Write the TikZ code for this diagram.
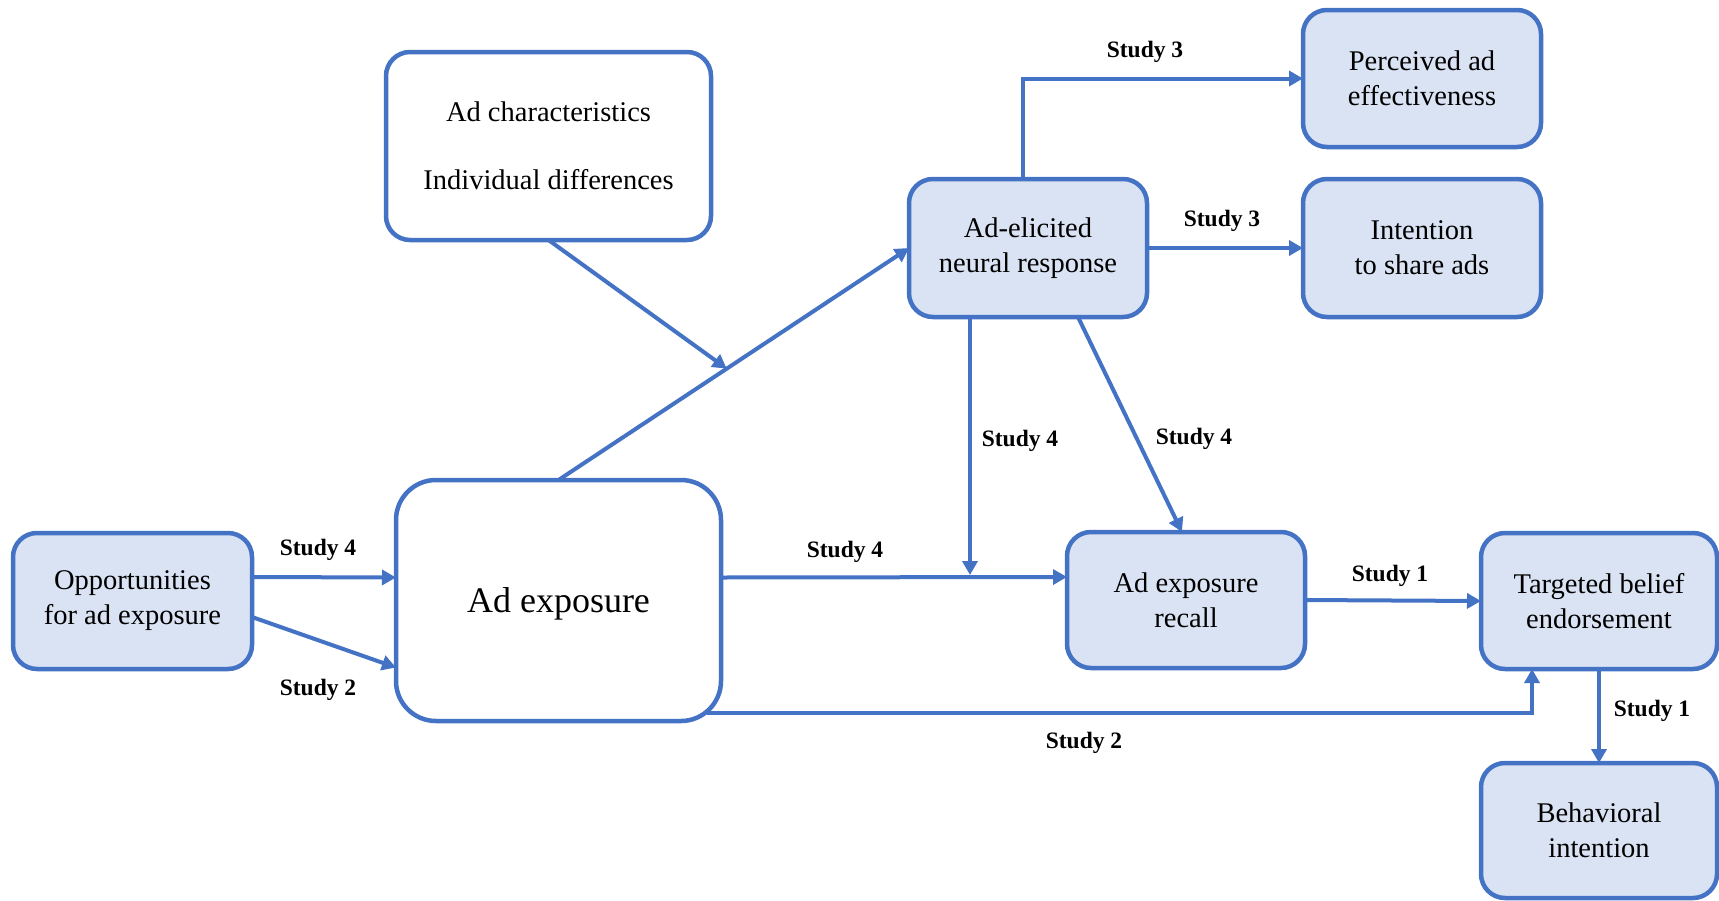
\documentclass[tikz,border=0pt]{standalone}
\usepackage{fontspec}
\setmainfont{Liberation Serif}
\usetikzlibrary{arrows.meta,calc}
\definecolor{bblue}{HTML}{4472C4}
\definecolor{lfill}{HTML}{DAE3F3}
\tikzset{
  box/.style={draw=bblue, line width=4.5pt, rounded corners=24pt, fill=lfill, inner sep=0pt, outer sep=0pt, align=center, font=\fontsize{28.5}{35}\selectfont},
  wbox/.style={box, fill=white},
  arr/.style={draw=bblue, line width=4pt, -{Triangle[length=14pt,width=15pt]}},
  lbl/.style={font=\fontsize{23.5}{27}\selectfont\bfseries, inner sep=0pt}
}
\begin{document}
\begin{tikzpicture}[x=1pt,y=-1pt]
\useasboundingbox (0,0) rectangle (1719,900);
\node[box, minimum width=239pt, minimum height=136pt] (opp) at (132.5,601) {Opportunities\\for ad exposure};
\node[wbox, rounded corners=40pt, minimum width=325pt, minimum height=241pt, font=\fontsize{36}{40}\selectfont, text depth=0pt] (ae) at (558.5,600.5) {Ad exposure};
\node[wbox, minimum width=325pt, minimum height=188pt] (ac) at (548.5,146) {Ad characteristics\\[33pt]Individual differences};
\node[box, minimum width=238pt, minimum height=138pt] (ane) at (1028,248) {Ad-elicited\\neural response};
\node[box, minimum width=238pt, minimum height=137pt] (pae) at (1422,78.5) {Perceived ad\\effectiveness};
\node[box, minimum width=238pt, minimum height=138pt] (isa) at (1422,248) {Intention\\to share ads};
\node[box, minimum width=238pt, minimum height=136pt] (rec) at (1186,600) {Ad exposure\\recall};
\node[box, minimum width=236pt, minimum height=136pt] (tbe) at (1599,601) {Targeted belief\\endorsement};
\node[box, minimum width=236pt, minimum height=135pt] (bi) at (1599,830.5) {Behavioral\\intention};

% connectors
\draw[arr] ([yshift=24pt]opp.east) -- ([yshift=23pt]ae.west);
\draw[arr] ([yshift=-16pt]opp.east) -- ([yshift=-67pt]ae.west);
\draw[arr] (ae.north) -- (ane.west);
\coordinate (m) at ($(ae.north)!0.48!(ane.west)$);
\draw[arr] (ac.south) -- (m);
\draw[arr] ([xshift=-5pt]ane.north) |- (pae.west);
\draw[arr] (ane.east) -- (isa.west);
\coordinate (r1) at ([yshift=23pt]rec.west);
\coordinate (a4) at ([xshift=-58pt]ane.south);
\draw[arr] ([yshift=23pt]ae.east) -- (r1);
\draw[arr] (a4) -- ([yshift=2pt]a4 |- r1);
\draw[arr] ([xshift=50pt]ane.south) -- ([xshift=-4pt]rec.north);
\draw[arr] (rec.east) -- (tbe.west);
\coordinate (s2) at ([xshift=148pt,yshift=8pt]ae.south);
\draw[arr] (s2) -| ([xshift=-67pt]tbe.south);
\draw[arr] (tbe.south) -- (bi.north);

% labels
\node[lbl] (l1) at (318,550) {Study 4};
\node[lbl] (l2) at (318,690) {Study 2};
\node[lbl] (l3) at (1145,52) {Study 3};
\node[lbl] (l4) at (1222,221) {Study 3};
\node[lbl] (l5) at (1020,441) {Study 4};
\node[lbl] (l6) at (1194,439) {Study 4};
\node[lbl] (l7) at (845,552) {Study 4};
\node[lbl] (l8) at (1390,576) {Study 1};
\node[lbl] (l9) at (1084,743) {Study 2};
\node[lbl] (l10) at (1652,711) {Study 1};
\end{tikzpicture}
\end{document}
